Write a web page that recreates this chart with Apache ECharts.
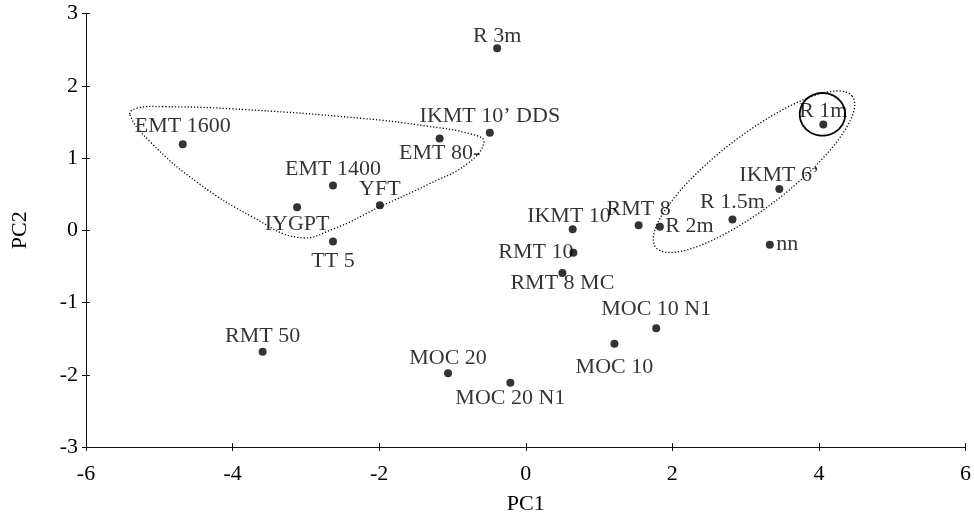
<!DOCTYPE html>
<html>
<head>
<meta charset="utf-8">
<script src="https://cdn.jsdelivr.net/npm/echarts@6/dist/echarts.min.js"></script>
<style>
html,body{margin:0;padding:0;background:#fff;}
#main{width:974px;height:520px;}
</style>
</head>
<body>
<div id="main"></div>
<script>
// ---- data ----
const names = ["EMT 1600","IYGPT","R 3m","IKMT 10\u2019 DDS","EMT 80-","EMT 1400","YFT","TT 5",
  "IKMT 10\u2019","RMT 8","RMT 10","RMT 8 MC","MOC 20","MOC 20 N1","MOC 10","MOC 10 N1",
  "RMT 50","R 1m","IKMT 6\u2019","R 1.5m","R 2m","nn"];
const pc1 = [-4.68,-3.12,-0.39,-0.49,-1.175,-2.63,-1.99,-2.63,
  0.64,1.54,0.65,0.50,-1.06,-0.21,1.21,1.78,
  -3.59,4.06,3.46,2.82,1.83,3.33];
const pc2 = [1.19,0.32,2.52,1.35,1.27,0.62,0.345,-0.155,
  0.014,0.07,-0.31,-0.59,-1.98,-2.11,-1.57,-1.355,
  -1.68,1.465,0.57,0.15,0.05,-0.20];
const xTicks = [-6,-4,-2,0,2,4,6];
const yTicks = [-3,-2,-1,0,1,2,3];

// group outlines (in PC units)
const leftGroupOutline = [[-5.40,1.60],[-5.12,1.22],[-4.45,0.64],[-3.72,0.18],[-3.10,-0.10],[-2.62,0.02],
  [-2.00,0.32],[-1.32,0.64],[-0.80,0.92],[-0.57,1.22],[-0.74,1.33],[-1.34,1.44],[-2.25,1.55],
  [-4.00,1.68],[-4.95,1.71],[-5.30,1.69]];
const rightGroupEllipse = {cx:3.114, cy:0.81, a:1.70, b:0.50, angleDeg:38};
const highlightCircle = {cx:4.048, cy:1.605, rx:0.31, ry:0.295};

// ---- label placement (style) ----
const placement = {
  "EMT 1600":["top",3.5,6,0], "IYGPT":["bottom",2.5,5.5,0], "R 3m":["top",-3.2,5.7,0],
  "IKMT 10\u2019 DDS":["top",1.8,4.4,0], "EMT 80-":["bottom",-0.5,-25,0], "EMT 1400":["top",0.8,2.5,0],
  "YFT":["top",0.8,-0.4,0], "TT 5":["bottom",5.2,-1,0], "IKMT 10\u2019":["top",-1.5,-12.8,0],
  "RMT 8":["top",0.8,9.8,0], "RMT 10":["left",-4,0,1], "RMT 8 MC":["bottom",-4.8,-4.2,0],
  "MOC 20":["top",0,1.5,0], "MOC 20 N1":["bottom",0.5,-1,0], "MOC 10":["bottom",8.5,-12.5,0],
  "MOC 10 N1":["top",4,14,0], "RMT 50":["top",0.5,0,0], "R 1m":["top",-1.5,3,0],
  "IKMT 6\u2019":["top",-0.8,-1,0], "R 1.5m":["top",2.5,3.5,0], "R 2m":["right",1.5,0,1.5],
  "nn":["right",2.5,0,-2.6]
};

const FONT = "'Liberation Serif','Times New Roman',serif";
const FS = 22;

const points = names.map((n,i)=>{
  const p = placement[n];
  return {
    name:n, value:[pc1[i],pc2[i]],
    label:{show:true, position:p[0], distance:p[1], offset:[p[2],p[3]], formatter:n,
      color:'#000', fontFamily:FONT, fontSize:FS}
  };
});

function ellipsePts(cx,cy,a,b,deg,n){
  const th = deg*Math.PI/180, out=[];
  for(let k=0;k<n;k++){
    const t = 2*Math.PI*k/n;
    out.push([cx + a*Math.cos(th)*Math.cos(t) - b*Math.sin(th)*Math.sin(t),
              cy + a*Math.sin(th)*Math.cos(t) + b*Math.cos(th)*Math.sin(t)]);
  }
  return out;
}
const shapes = [
  {pts:leftGroupOutline, smooth:0.45, dash:[1.2,2], w:1.3},
  {pts:ellipsePts(rightGroupEllipse.cx,rightGroupEllipse.cy,rightGroupEllipse.a,rightGroupEllipse.b,rightGroupEllipse.angleDeg,120), smooth:0, dash:[1.2,2], w:1.3},
  {pts:ellipsePts(highlightCircle.cx,highlightCircle.cy,highlightCircle.rx,highlightCircle.ry,0,120), smooth:0, dash:null, w:1.8}
];

const axisText = {color:'#000', fontFamily:FONT, fontSize:FS};
const chart = echarts.init(document.getElementById('main'), null, {renderer:'canvas'});
chart.setOption({
  backgroundColor:'#fff',
  animation:false,
  grid:{left:86, right:6, top:13.5, bottom:65.5, containLabel:false},
  xAxis:[{
    type:'value', min:xTicks[0], max:xTicks[xTicks.length-1], interval:2,
    name:'PC1', nameLocation:'middle', nameGap:46, nameTextStyle:axisText,
    axisLine:{show:true, onZero:false, lineStyle:{color:'#111', width:1}},
    axisTick:{show:true, inside:false, length:4, lineStyle:{color:'#111'}},
    axisLabel:Object.assign({margin:16}, axisText),
    splitLine:{show:false}
  },{
    type:'value', min:xTicks[0], max:xTicks[xTicks.length-1], interval:2, position:'bottom',
    axisLine:{show:false, onZero:false}, axisLabel:{show:false}, splitLine:{show:false},
    axisTick:{show:true, inside:true, length:4, lineStyle:{color:'#111'}}
  }],
  yAxis:[{
    type:'value', min:yTicks[0], max:yTicks[yTicks.length-1], interval:1,
    name:'PC2', nameLocation:'middle', nameGap:55, nameRotate:90, nameTextStyle:axisText,
    axisLine:{show:true, onZero:false, lineStyle:{color:'#111', width:1}},
    axisTick:{show:true, inside:false, length:4, lineStyle:{color:'#111'}},
    axisLabel:Object.assign({margin:8}, axisText),
    splitLine:{show:false}
  },{
    type:'value', min:yTicks[0], max:yTicks[yTicks.length-1], interval:1, position:'left',
    axisLine:{show:false, onZero:false}, axisLabel:{show:false}, splitLine:{show:false},
    axisTick:{show:true, inside:true, length:4, lineStyle:{color:'#111'}}
  }],
  series:[{
    type:'custom', xAxisIndex:0, yAxisIndex:0, silent:true, clip:false,
    data:shapes.map((s,i)=>[s.pts[0][0], s.pts[0][1], i]),
    renderItem:function(params, api){
      const s = shapes[params.dataIndex];
      const px = s.pts.map(p=>api.coord(p));
      return {type:'polygon', shape:{points:px, smooth:s.smooth},
        style:{fill:null, stroke:'#000', lineWidth:s.w, lineDash:s.dash}};
    },
    z:1
  },{
    type:'scatter', xAxisIndex:0, yAxisIndex:0, symbol:'circle', symbolSize:8,
    itemStyle:{color:'#000'}, data:points, z:3,
    labelLayout:{hideOverlap:false}
  }]
});
</script>
</body>
</html>
